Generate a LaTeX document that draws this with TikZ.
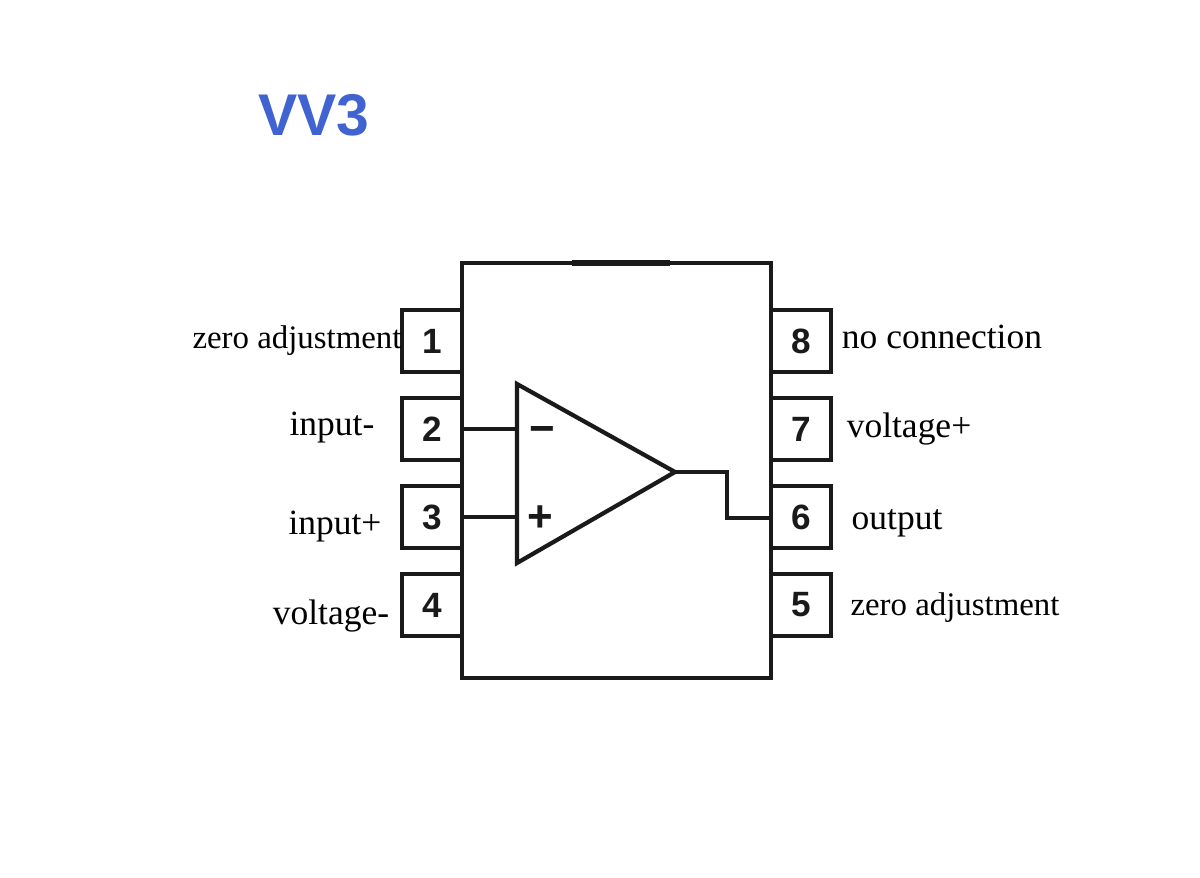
\documentclass[tikz,border=0pt]{standalone}
\usepackage{fontspec}
\setmainfont{Liberation Serif}
\newfontfamily\pinfont{Liberation Sans}
\definecolor{titleblue}{HTML}{4163D1}
\definecolor{pinblack}{HTML}{1A1A1A}
\tikzset{
	pinbox/.style={draw=pinblack, line width=2.5pt, minimum width=1.2cm, minimum height=1.24cm, inner sep=0pt, outer sep=0pt, font=\pinfont\bfseries\fontsize{20}{20}\selectfont, text=pinblack},
	pinlabel/.style={font=\fontsize{20.2}{21}\selectfont, text=black, inner sep=0pt},
	adjustlabel/.style={font=\fontsize{18.7}{20}\selectfont, text=black, inner sep=0pt},
	wire/.style={draw=pinblack, line width=2.4pt, line join=miter},
	signmark/.style={font=\pinfont\bfseries\fontsize{25}{25}\selectfont, text=pinblack, inner sep=0pt}
}
\begin{document}
\begin{tikzpicture}[x=0.02cm,y=-0.02cm]
	\useasboundingbox (0,0) rectangle (1200,878);
	
	\node[font=\pinfont\bfseries\fontsize{33.5}{33}\selectfont, text=titleblue, inner sep=0pt] (title) at (314,115) {VV3};
	
	% package outline
	\coordinate (bodyA) at (462,263);
	\coordinate (bodyB) at (771,263);
	\coordinate (bodyC) at (771,678);
	\coordinate (bodyD) at (462,678);
	\draw[wire] (bodyA) -- (bodyB) -- (bodyC) -- (bodyD) -- cycle;
	\coordinate (notchA) at (572,263);
	\coordinate (notchB) at (670,263);
	\draw[draw=pinblack, line width=3.4pt] (notchA) -- (notchB);
	
	% pins
	\node[pinbox] (pinA) at (432,341) {1};
	\node[pinbox] (pinB) at (432,429) {2};
	\node[pinbox] (pinC) at (432,517) {3};
	\node[pinbox] (pinD) at (432,605) {4};
	\node[pinbox] (pinE) at (801,605) {5};
	\node[pinbox] (pinF) at (801,517) {6};
	\node[pinbox] (pinG) at (801,429) {7};
	\node[pinbox] (pinH) at (801,341) {8};
	
	% labels
	\node[adjustlabel] (labelA) at (297,341) {zero adjustment};
	\node[pinlabel] (labelB) at (332,428) {input-};
	\node[pinlabel] (labelC) at (335,527) {input+};
	\node[pinlabel] (labelD) at (331,616) {voltage-};
	\node[adjustlabel] (labelE) at (955,608) {zero adjustment};
	\node[pinlabel] (labelF) at (897,523) {output};
	\node[pinlabel] (labelG) at (909,429) {voltage+};
	\node[pinlabel] (labelH) at (942,337) {no connection};
	
	% amplifier
	\coordinate (ampA) at (517,384);
	\coordinate (ampB) at (517,563);
	\coordinate (ampOut) at (675,472);
	\draw[wire] (ampA) -- (ampB) -- (ampOut) -- cycle;
	\node[signmark] (minus) at (542,435) {−};
	\node[signmark] (plus) at (540,519) {+};
	
	% wires
	\coordinate (inMinus) at (517,429);
	\coordinate (inPlus) at (517,517);
	\coordinate (outBend) at (727,472);
	\coordinate (outBendB) at (727,518);
	\draw[wire] (pinB.east) -- (inMinus);
	\draw[wire] (pinC.east) -- (inPlus);
	\draw[wire] (ampOut) -- (outBend) -- (outBendB) -- (pinF.west |- outBendB);
	
\end{tikzpicture}
\end{document}
